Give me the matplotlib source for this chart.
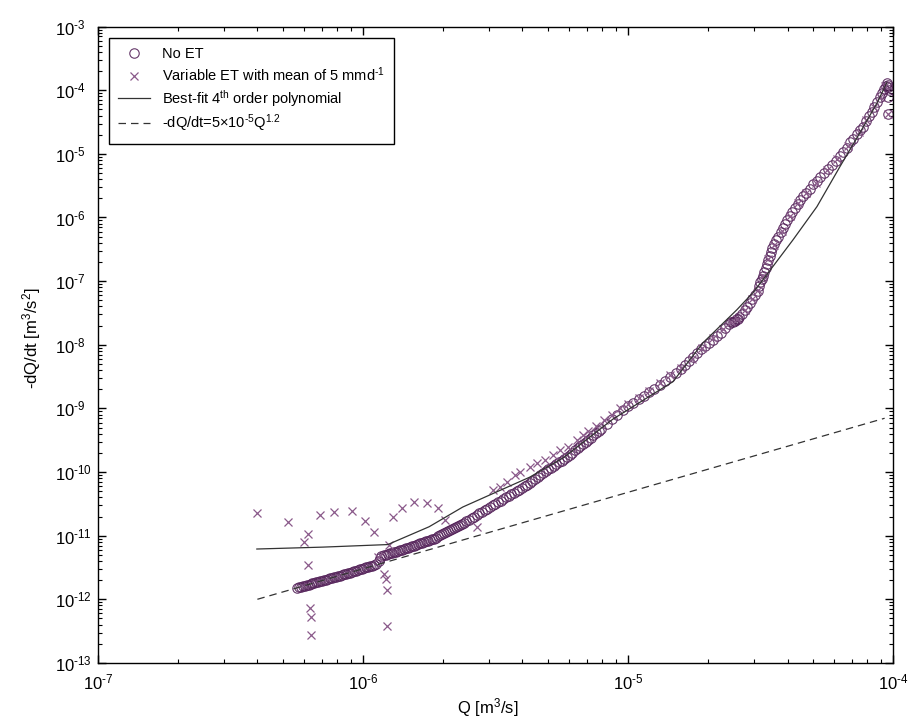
import numpy as np
import matplotlib
matplotlib.use("Agg")
import matplotlib.pyplot as plt
from matplotlib import ticker

plt.rcParams["font.family"] = ["Liberation Sans", "DejaVu Sans"]
plt.rcParams["mathtext.fontset"] = "custom"
plt.rcParams["mathtext.rm"] = "Liberation Sans"
plt.rcParams["mathtext.it"] = "Liberation Sans:italic"
plt.rcParams["mathtext.default"] = "regular"

HY = "\u2010"  # plain hyphen for the exponents

# values, as log10(Q) and log10(-dQ/dt)
# "No ET" circles
noet_lq = [-6.25, -6.235, -6.22, -6.205, -6.19, -6.175, -6.16, -6.145, -6.13, -6.115,
           -6.10, -6.085, -6.07, -6.055, -6.04, -6.025, -6.01, -5.995, -5.98, -5.965,
           -5.95, -5.94, -5.935, -5.93, -5.92, -5.905, -5.89, -5.875, -5.86, -5.845,
           -5.83, -5.815, -5.80, -5.785, -5.77, -5.755, -5.74, -5.725, -5.71, -5.695,
           -5.68, -5.665, -5.65, -5.635, -5.62, -5.60, -5.58, -5.56, -5.54, -5.52,
           -5.50, -5.48, -5.46, -5.44, -5.42, -5.40, -5.38, -5.36, -5.34, -5.32,
           -5.30, -5.28, -5.26, -5.24, -5.22, -5.20, -5.18, -5.16, -5.14, -5.12,
           -5.10, -5.08, -5.06, -5.04, -5.02, -5.00, -4.98, -4.96, -4.94, -4.92,
           -4.90, -4.88, -4.86, -4.84, -4.82, -4.80, -4.785, -4.77, -4.755, -4.74,
           -4.725, -4.71, -4.695, -4.68, -4.665, -4.65, -4.635, -4.62, -4.61, -4.605,
           -4.60, -4.595, -4.59, -4.585, -4.58, -4.57, -4.56, -4.55, -4.54, -4.53,
           -4.52, -4.51, -4.505, -4.50, -4.495, -4.49, -4.485, -4.48, -4.475, -4.47,
           -4.465, -4.46, -4.455, -4.448, -4.44, -4.432, -4.424, -4.415, -4.407, -4.40,
           -4.39, -4.38, -4.37, -4.36, -4.35, -4.34, -4.327, -4.314, -4.30, -4.287,
           -4.275, -4.26, -4.245, -4.23, -4.215, -4.20, -4.188, -4.175, -4.162, -4.15,
           -4.137, -4.125, -4.113, -4.10, -4.09, -4.08, -4.07, -4.06, -4.05, -4.042,
           -4.035, -4.028, -4.023, -4.02, -4.018, -4.015, -4.017, -4.019,
           # dense lower band
           -6.2425, -6.2275, -6.2125, -6.1975, -6.1825, -6.1675, -6.1525, -6.1375, -6.1225, -6.1075,
           -6.0925, -6.0775, -6.0625, -6.0475, -6.0325, -6.0175, -6.0025, -5.9875, -5.9725, -5.9575,
           -5.9125, -5.8975, -5.8825, -5.8675, -5.8525, -5.8375, -5.8225, -5.8075, -5.7925, -5.7775,
           -5.7625, -5.7475, -5.7325, -5.7175, -5.7025, -5.6875, -5.6725, -5.6575, -5.6425, -5.6275,
           -5.61, -5.59, -5.57, -5.55, -5.53, -5.51, -5.49, -5.47, -5.45, -5.43,
           -5.41, -5.39, -5.37, -5.35, -5.33, -5.31, -5.29, -5.27, -5.25, -5.23,
           -5.21, -5.19, -5.17, -5.15, -5.13, -5.11]
noet_ly = [-11.82, -11.80, -11.79, -11.77, -11.75, -11.73, -11.72, -11.70, -11.68, -11.66,
           -11.65, -11.63, -11.61, -11.59, -11.57, -11.55, -11.53, -11.51, -11.49, -11.47,
           -11.45, -11.40, -11.35, -11.32, -11.31, -11.29, -11.27, -11.25, -11.23, -11.21,
           -11.19, -11.17, -11.14, -11.12, -11.10, -11.08, -11.06, -11.03, -10.99, -10.96,
           -10.93, -10.89, -10.86, -10.83, -10.80, -10.75, -10.70, -10.65, -10.60, -10.55,
           -10.50, -10.45, -10.40, -10.35, -10.30, -10.25, -10.20, -10.14, -10.08, -10.02,
           -9.96, -9.90, -9.85, -9.79, -9.73, -9.66, -9.59, -9.53, -9.46, -9.39,
           -9.32, -9.25, -9.17, -9.10, -9.02, -8.97, -8.91, -8.86, -8.80, -8.75,
           -8.69, -8.63, -8.57, -8.51, -8.44, -8.38, -8.32, -8.26, -8.19, -8.13,
           -8.07, -8.02, -7.97, -7.92, -7.87, -7.81, -7.74, -7.67, -7.65, -7.64,
           -7.63, -7.62, -7.60, -7.59, -7.57, -7.52, -7.46, -7.40, -7.34, -7.28,
           -7.22, -7.15, -7.08, -7.02, -6.97, -6.92, -6.85, -6.79, -6.73, -6.67,
           -6.60, -6.54, -6.48, -6.42, -6.36, -6.30, -6.23, -6.16, -6.10, -6.04,
           -5.97, -5.91, -5.85, -5.79, -5.73, -5.67, -5.61, -5.55, -5.48, -5.42,
           -5.36, -5.30, -5.23, -5.17, -5.11, -5.04, -4.97, -4.90, -4.82, -4.76,
           -4.69, -4.63, -4.57, -4.48, -4.41, -4.34, -4.27, -4.19, -4.11, -4.04,
           -3.98, -3.93, -3.89, -3.91, -3.95, -4.00, -4.10, -4.38,
           -11.81, -11.795, -11.78, -11.76, -11.74, -11.725, -11.71, -11.69, -11.67, -11.655,
           -11.64, -11.62, -11.60, -11.58, -11.56, -11.54, -11.52, -11.50, -11.48, -11.46,
           -11.30, -11.28, -11.26, -11.24, -11.22, -11.20, -11.18, -11.155, -11.13, -11.11,
           -11.09, -11.07, -11.045, -11.01, -10.975, -10.945, -10.91, -10.875, -10.845, -10.815,
           -10.775, -10.725, -10.675, -10.625, -10.575, -10.525, -10.475, -10.425, -10.375, -10.325,
           -10.275, -10.225, -10.17, -10.11, -10.05, -9.99, -9.93, -9.875, -9.82, -9.76,
           -9.695, -9.625, -9.56, -9.495, -9.425, -9.355]

# "Variable ET" crosses
vet_lq = [-6.400, -6.283, -6.208, -6.223, -6.208, -6.162, -6.109, -6.042, -5.992, -5.958,
          -5.902, -5.887, -5.853, -5.808, -5.758, -5.921, -5.913, -5.909, -6.200, -6.196,
          -6.196, -5.909, -5.943, -5.717, -5.691, -5.570, -5.509, -5.483, -5.457, -5.426,
          -5.408, -5.370, -5.343, -5.313, -5.283, -5.257, -5.226, -5.192,
          -5.17, -5.15, -5.12, -5.09, -5.06, -5.03, -5.00, -4.96, -4.92, -4.88,
          -4.84, -4.80, -4.76, -4.72, -4.68, -4.64, -4.61, -4.59, -4.56, -4.53,
          -4.51, -4.49, -4.47, -4.45, -4.42, -4.39, -4.36, -4.33, -4.29, -4.25,
          -4.21, -4.17, -4.13, -4.10, -4.07, -4.05, -4.03, -4.019]
vet_ly = [-10.64, -10.78, -10.97, -11.10, -11.46, -10.67, -10.63, -10.61, -10.77, -10.94,
          -11.15, -10.70, -10.56, -10.47, -10.48, -11.60, -11.68, -11.85, -12.13, -12.28,
          -12.56, -12.42, -11.33, -10.56, -10.75, -10.86, -10.28, -10.23, -10.15, -10.04,
          -10.00, -9.92, -9.86, -9.81, -9.73, -9.65, -9.60, -9.49,
          -9.42, -9.36, -9.27, -9.18, -9.10, -9.00, -8.93, -8.83, -8.72, -8.60,
          -8.48, -8.36, -8.22, -8.05, -7.90, -7.76, -7.64, -7.60, -7.46, -7.28,
          -7.14, -6.92, -6.66, -6.44, -6.21, -5.97, -5.78, -5.62, -5.45, -5.26,
          -5.08, -4.88, -4.65, -4.47, -4.26, -4.10, -3.93, -4.38]

# best-fit 4th order polynomial
fit_lq = [-6.40, -6.15, -5.906, -5.75, -5.623, -5.494, -5.370, -5.245, -5.057, -4.830,
          -4.717, -4.589, -4.528, -4.491, -4.377, -4.287, -4.200, -4.125, -4.060, -4.023]
fit_ly = [-11.21, -11.18, -11.14, -10.86, -10.55, -10.31, -10.08, -9.78, -9.17, -8.58,
          -7.97, -7.45, -7.18, -6.98, -6.35, -5.83, -5.20, -4.67, -4.20, -3.88]

# -dQ/dt = 5e-5 Q^1.2 (end points)
pow_q = [4.0e-7, 9.3e-5]
pow_y = [1.0e-12, 7.0e-10]

fig = plt.figure(figsize=(9.14, 7.19), dpi=100)
ax = fig.add_axes([0.107, 0.078, 0.870, 0.885])

ax.plot(10 ** np.array(noet_lq), 10 ** np.array(noet_ly), "o", ms=6.8, mfc="none",
        mec="#55235a", mew=0.8, alpha=0.9, label="No ET")
ax.plot(10 ** np.array(vet_lq), 10 ** np.array(vet_ly), "x", ms=6, color="#8a5a8a",
        mew=0.9, label="Variable ET with mean of 5 mmd$^{" + HY + "1}$")
ax.plot(10 ** np.array(fit_lq), 10 ** np.array(fit_ly), "-", color="#333333", lw=0.9,
        label="Best-fit 4$^{th}$ order polynomial")
ax.plot(pow_q, pow_y, "--", color="#333333", lw=0.9, dashes=(6, 4),
        label=HY + "dQ/dt=5\u00d710$^{" + HY + "5}$Q$^{1.2}$")


def log_fmt(v, pos):
    e = int(round(np.log10(v)))
    return "10$^{" + str(e).replace("-", HY) + "}$"


ax.set_xscale("log")
ax.set_yscale("log")
ax.set_xlim(1e-7, 1e-4)
ax.set_ylim(1e-13, 1e-3)
ax.set_yticks([10.0 ** k for k in range(-13, -2)])
ax.set_xticks([1e-7, 1e-6, 1e-5, 1e-4])
ax.xaxis.set_major_formatter(ticker.FuncFormatter(log_fmt))
ax.yaxis.set_major_formatter(ticker.FuncFormatter(log_fmt))
ax.yaxis.set_minor_locator(ticker.LogLocator(base=10, subs=np.arange(2, 10), numticks=20))
ax.xaxis.set_minor_locator(ticker.LogLocator(base=10, subs=np.arange(2, 10), numticks=20))
ax.yaxis.set_minor_formatter(ticker.NullFormatter())
ax.xaxis.set_minor_formatter(ticker.NullFormatter())
ax.tick_params(which="both", direction="in", top=True, right=True, labelsize=12)
ax.tick_params(which="major", length=6, width=1)
ax.tick_params(which="minor", length=3, width=0.8)
ax.tick_params(axis="x", which="major", pad=7)
# y tick labels start at the same x, as in the original
ax.tick_params(axis="y", which="major", pad=31)
plt.setp(ax.get_yticklabels(), ha="left")
for s in ax.spines.values():
    s.set_linewidth(1)

ax.set_xlabel("Q [m$^3$/s]", fontsize=12)
ax.xaxis.set_label_coords(0.49, -0.052)
ax.set_ylabel(HY + "dQ/dt [m$^3$/s$^2$]", fontsize=12)
ax.yaxis.set_label_coords(-0.069, 0.51)

leg = ax.legend(loc="upper left", fontsize=10.5, fancybox=False, framealpha=1,
                edgecolor="black", borderaxespad=0.75, handlelength=2.2,
                labelspacing=0.28, borderpad=0.65)
leg.get_frame().set_linewidth(1)

fig.savefig("out.png", dpi=100)
